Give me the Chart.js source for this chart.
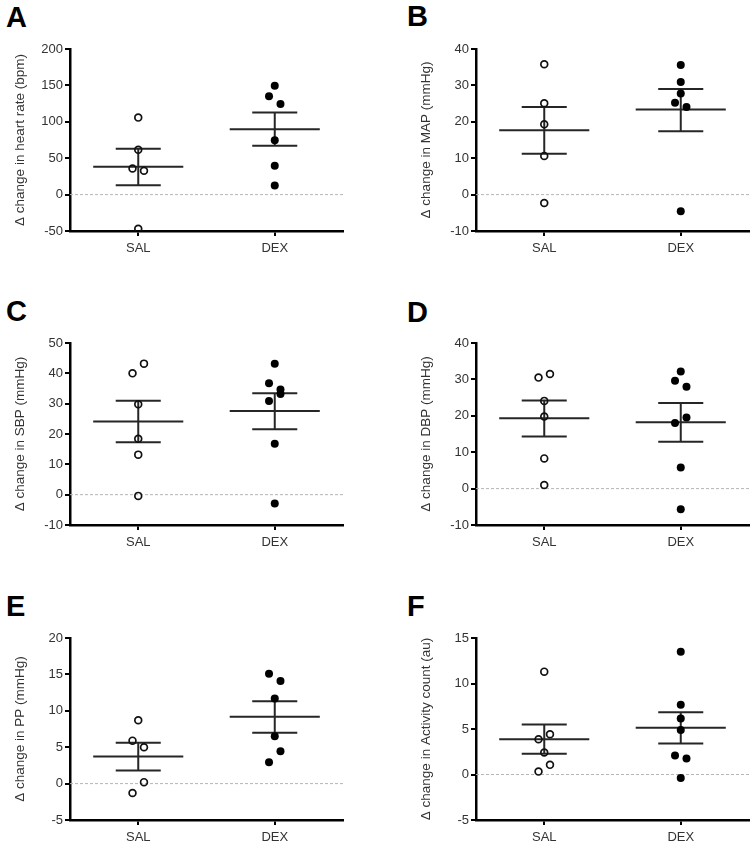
<!DOCTYPE html>
<html>
<head>
<meta charset="utf-8">
<script src="https://cdn.jsdelivr.net/npm/chart.js@4"></script>
<style>
  body { margin: 0; background: #fff; width: 755px; height: 847px; position: relative; overflow: hidden;
         font-family: "Liberation Sans", Arial, sans-serif; }
  .panel { position: absolute; width: 349px; height: 280px; }
  .letter { position: absolute; font-weight: bold; font-size: 29px; line-height: 1; color: #000; }
</style>
</head>
<body>

<div class="letter" style="left:6px;top:3px">A</div>
<div class="letter" style="left:407px;top:2px">B</div>
<div class="letter" style="left:6px;top:297px">C</div>
<div class="letter" style="left:407px;top:298px">D</div>
<div class="letter" style="left:6px;top:592px">E</div>
<div class="letter" style="left:407px;top:592px">F</div>

<div class="panel" style="left:0;top:0"><canvas id="chartA"></canvas></div>
<div class="panel" style="left:406px;top:0"><canvas id="chartB"></canvas></div>
<div class="panel" style="left:0;top:294px"><canvas id="chartC"></canvas></div>
<div class="panel" style="left:406px;top:294px"><canvas id="chartD"></canvas></div>
<div class="panel" style="left:0;top:589px"><canvas id="chartE"></canvas></div>
<div class="panel" style="left:406px;top:589px"><canvas id="chartF"></canvas></div>

<script>
// groups on the x axis
const groups = ['SAL', 'DEX'];

// A - heart rate (bpm)
const hrSal = [105.8, 61.7, 35.9, 32.7, -47];
const hrSalLane = [0, 0, -1, 1, 0];
const hrDex = [149.4, 135.2, 124.6, 74.5, 39.6, 12.5];
const hrDexLane = [0, -1, 1, 0, 0, 0];
const hrMean = [38.2, 89.7];
const hrSemLow = [13, 67.2];
const hrSemHigh = [63, 112.7];

// B - MAP (mmHg)
const mapSal = [35.8, 25.1, 19.3, 10.6, -2.3];
const mapSalLane = [0, 0, 0, 0, 0];
const mapDex = [35.6, 30.9, 27.8, 25.2, 24.1, -4.6];
const mapDexLane = [0, 0, 0, -1, 1, 0];
const mapMean = [17.7, 23.4];
const mapSemLow = [11.2, 17.4];
const mapSemHigh = [24.1, 29];

// C - SBP (mmHg)
const sbpSal = [43.2, 40, 29.8, 18.4, 13.2, -0.4];
const sbpSalLane = [1, -1, 0, 0, 0, 0];
const sbpDex = [43.2, 36.7, 34.7, 33.2, 30.9, 16.8, -2.9];
const sbpDexLane = [0, -1, 1, 1, -1, 0, 0];
const sbpMean = [24.1, 27.6];
const sbpSemLow = [17.3, 21.6];
const sbpSemHigh = [31, 33.4];

// D - DBP (mmHg)
const dbpSal = [31.5, 30.5, 24.1, 19.8, 8.3, 1];
const dbpSalLane = [1, -1, 0, 0, 0, 0];
const dbpDex = [32.2, 29.6, 28, 19.5, 18, 5.8, -5.7];
const dbpDexLane = [0, -1, 1, 1, -1, 0, 0];
const dbpMean = [19.3, 18.2];
const dbpSemLow = [14.3, 12.9];
const dbpSemHigh = [24.2, 23.5];

// E - PP (mmHg)
const ppSal = [8.7, 5.9, 5.0, 0.2, -1.3];
const ppSalLane = [0, -1, 1, 1, -1];
const ppDex = [15.1, 14.1, 11.7, 6.5, 4.45, 2.94];
const ppDexLane = [-1, 1, 0, 0, 1, -1];
const ppMean = [3.72, 9.17];
const ppSemLow = [1.8, 7.0];
const ppSemHigh = [5.6, 11.3];

// F - activity count (au)
const actSal = [11.3, 4.43, 3.88, 2.41, 1.06, 0.32];
const actSalLane = [0, 1, -1, 0, 1, -1];
const actDex = [13.5, 7.66, 6.16, 4.9, 2.08, 1.75, -0.38];
const actDexLane = [0, 0, 0, 0, -1, 1, 0];
const actMean = [3.88, 5.13];
const actSemLow = [2.27, 3.4];
const actSemHigh = [5.5, 6.85];

// y axis ranges: min, max, step
const hrTicks = [-50, 200, 50];
const mapTicks = [-10, 40, 10];
const sbpTicks = [-10, 50, 10];
const dbpTicks = [-10, 40, 10];
const ppTicks = [-5, 20, 5];
const actTicks = [-5, 15, 5];

const LANE = 0.042;     // horizontal jitter step (x units)
const MEAN_HALF = 0.33;
const SEM_HALF = 0.165;
const TEXT = '#333';
const LINE = '#262626';

function segment(points) {
    return {
        data: points, showLine: true, pointRadius: 0, pointHoverRadius: 0,
        borderColor: LINE, borderWidth: 2, order: 1
    };
}

function makePanel(id, title, sal, salLane, dex, dexLane, mean, semLow, semHigh, range) {
    const datasets = [];

    // dashed zero line
    datasets.push({
        data: [{ x: 0.5, y: 0 }, { x: 2.5, y: 0 }], showLine: true, pointRadius: 0,
        borderColor: '#b5b5b5', borderWidth: 1, borderDash: [3, 2], order: 2
    });

    // mean and SEM bars
    mean.forEach(function(m, i) {
        const x = i + 1;
        datasets.push(segment([{ x: x - MEAN_HALF, y: m }, { x: x + MEAN_HALF, y: m }]));
        datasets.push(segment([{ x: x - SEM_HALF, y: semHigh[i] }, { x: x + SEM_HALF, y: semHigh[i] }]));
        datasets.push(segment([{ x: x - SEM_HALF, y: semLow[i] }, { x: x + SEM_HALF, y: semLow[i] }]));
        datasets.push(segment([{ x: x, y: semLow[i] }, { x: x, y: semHigh[i] }]));
    });

    // individual animals
    datasets.push({
        data: sal.map((v, i) => ({ x: 1 + salLane[i] * LANE, y: v })),
        pointRadius: 3.4, borderWidth: 1.7, borderColor: '#111',
        backgroundColor: 'rgba(0,0,0,0)', order: 0
    });
    datasets.push({
        data: dex.map((v, i) => ({ x: 2 + dexLane[i] * LANE, y: v })),
        pointRadius: 4, borderWidth: 0, backgroundColor: '#000', order: 0
    });

    const tickFont = { family: '"Liberation Sans", Arial, sans-serif', size: 13 };
    const titleFont = { family: '"Liberation Sans", Arial, sans-serif', size: 13.5 };

    new Chart(document.getElementById(id), {
        type: 'scatter',
        data: { datasets: datasets },
        options: {
            responsive: true,
            maintainAspectRatio: false,
            animation: false,
            devicePixelRatio: 1,
            layout: { padding: { top: 49, right: 6, bottom: 19, left: 0 } },
            plugins: { legend: { display: false }, tooltip: { enabled: false } },
            scales: {
                x: {
                    type: 'linear', min: 0.5, max: 2.5,
                    afterBuildTicks: function(scale) { scale.ticks = [{ value: 1 }, { value: 2 }]; },
                    afterFit: function(scale) { scale.height = 30; },
                    ticks: {
                        callback: v => groups[v - 1], font: tickFont, color: TEXT,
                        padding: 5, maxRotation: 0, autoSkip: false
                    },
                    grid: { display: true, drawOnChartArea: false, drawTicks: true, tickLength: 5, color: '#000', lineWidth: 2 },
                    border: { display: true, color: '#000', width: 2.5 }
                },
                y: {
                    min: range[0], max: range[1],
                    afterFit: function(scale) { scale.width = 70; },
                    ticks: { stepSize: range[2], font: tickFont, color: TEXT, padding: 2 },
                    grid: { display: true, drawOnChartArea: false, drawTicks: true, tickLength: 5, color: '#000', lineWidth: 2 },
                    border: { display: true, color: '#000', width: 2.5 },
                    title: { display: true, text: title, font: titleFont, color: TEXT, padding: { top: 12, bottom: 0 } }
                }
            }
        }
    });
}

makePanel('chartA', 'Δ change in heart rate (bpm)', hrSal, hrSalLane, hrDex, hrDexLane, hrMean, hrSemLow, hrSemHigh, hrTicks);
makePanel('chartB', 'Δ change in MAP (mmHg)', mapSal, mapSalLane, mapDex, mapDexLane, mapMean, mapSemLow, mapSemHigh, mapTicks);
makePanel('chartC', 'Δ change in SBP (mmHg)', sbpSal, sbpSalLane, sbpDex, sbpDexLane, sbpMean, sbpSemLow, sbpSemHigh, sbpTicks);
makePanel('chartD', 'Δ change in DBP (mmHg)', dbpSal, dbpSalLane, dbpDex, dbpDexLane, dbpMean, dbpSemLow, dbpSemHigh, dbpTicks);
makePanel('chartE', 'Δ change in PP (mmHg)', ppSal, ppSalLane, ppDex, ppDexLane, ppMean, ppSemLow, ppSemHigh, ppTicks);
makePanel('chartF', 'Δ change in Activity count (au)', actSal, actSalLane, actDex, actDexLane, actMean, actSemLow, actSemHigh, actTicks);
</script>
</body>
</html>
